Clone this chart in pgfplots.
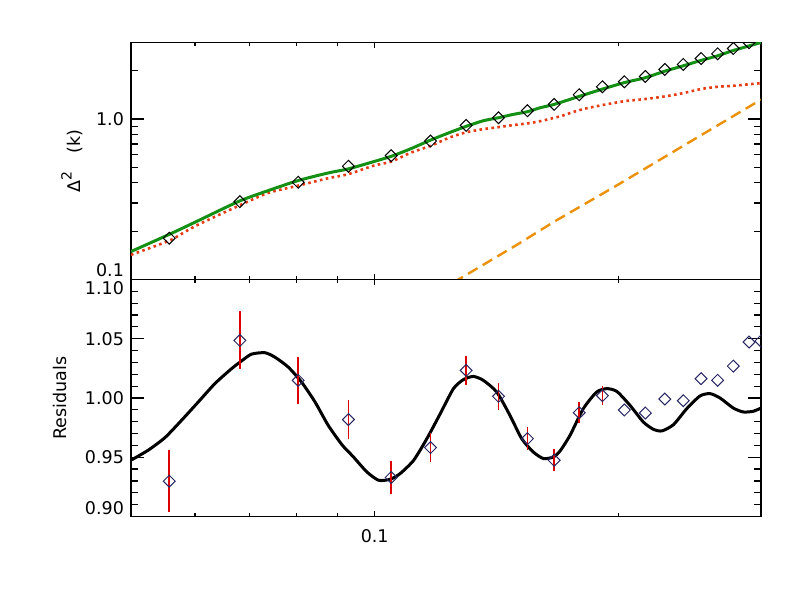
\documentclass[border=0pt]{standalone}
\usepackage{fontspec}
\setmainfont{DejaVu Sans}
\usepackage{pgfplots}
\pgfplotsset{compat=1.18}
\definecolor{cgreen}{RGB}{20,145,20}
\definecolor{cred}{RGB}{230,60,20}
\definecolor{corange}{RGB}{235,145,10}
\definecolor{cerr}{RGB}{220,0,0}
\definecolor{cnavy}{RGB}{40,40,100}
\begin{document}
\begin{tikzpicture}
\path[use as bounding box] (-65.5pt,-41.75pt) rectangle (334.5pt,258.25pt);
\pgfplotsset{
  every axis/.append style={
    scale only axis, width=315pt, height=118.5pt,
    xmode=log, xmin=0.05, xmax=0.3,
    axis line style={line width=0.6pt},
    tick align=inside, xtick pos=both, ytick pos=both,
    xtick={0.1}, minor xtick={0.06,0.07,0.08,0.09,0.2},
    xtick style={/pgfplots/major tick length=2.6pt,/pgfplots/minor tick length=1.6pt, line width=0.6pt, black},
    ytick style={/pgfplots/major tick length=6.5pt,/pgfplots/minor tick length=3.5pt, line width=0.6pt, black},
    ticklabel style={font=\fontsize{8.75}{10}\selectfont},
    label style={font=\fontsize{8.75}{10}\selectfont},
    /pgf/number format/assume math mode=true,
    clip=true, clip marker paths=true,
  }
}
% top panel
\begin{axis}[
  at={(0pt,118.5pt)}, anchor=south west,
  ymode=log, ymin=0.1, ymax=3,
  xticklabels={},
  ytick={0.1,1}, yticklabels={\raisebox{9pt}{0.1},1.0},
  minor ytick={0.2,0.3,0.4,0.5,0.6,0.7,0.8,0.9,2},
  ylabel={Δ\raisebox{0.9ex}{\fontsize{7}{8}\selectfont 2}\hspace{9pt}(k)},
  ylabel style={at={(axis description cs:-0.094,0.5)}, anchor=center},
]
\addplot[corange, line width=1.2pt, dash pattern=on 5.5pt off 3pt] coordinates {
(0.12,0.0846) (0.1269,0.1) (0.15,0.165) (0.1662,0.2276) (0.2,0.391) (0.25,0.765) (0.3,1.321)};
\addplot[cred, line width=1.3pt, dash pattern=on 1.3pt off 1.7pt, smooth, tension=0.4] coordinates {
(0.05,0.1425) (0.0558,0.175) (0.0600,0.2149) (0.0680,0.2888) (0.07386,0.3464) (0.08044,0.3846)
(0.0876,0.4276) (0.0927,0.4528) (0.0997,0.5121) (0.1048,0.5425) (0.1106,0.6143) (0.1173,0.6823)
(0.1239,0.7693) (0.1297,0.8264) (0.1362,0.8653) (0.1422,0.8903) (0.1483,0.917) (0.1544,0.9393)
(0.1601,0.970) (0.1694,1.039) (0.1743,1.090) (0.1810,1.154) (0.1911,1.222) (0.2038,1.294)
(0.2157,1.332) (0.2283,1.384) (0.2405,1.451) (0.2528,1.537) (0.2652,1.589) (0.2773,1.612) (0.3,1.675)};
\addplot[cgreen, line width=1.5pt, smooth, tension=0.4] coordinates {
(0.05,0.1494) (0.0558,0.1915) (0.0600,0.2276) (0.0680,0.3075) (0.07386,0.358) (0.08044,0.4137)
(0.0876,0.4613) (0.0927,0.4885) (0.0997,0.5426) (0.1048,0.5856) (0.1106,0.6506) (0.1173,0.7404)
(0.1239,0.826) (0.1297,0.9003) (0.1362,0.976) (0.1422,1.019) (0.1483,1.069) (0.1544,1.111)
(0.1601,1.176) (0.1666,1.234) (0.1789,1.384) (0.1911,1.537) (0.2038,1.691) (0.2157,1.807)
(0.2283,1.990) (0.2405,2.147) (0.2528,2.318) (0.2652,2.478) (0.2773,2.675) (0.3,3.0)};
\addplot[only marks, mark=square, mark size=2.1pt, mark options={rotate=45, black, line width=0.5pt}] coordinates {
(0.05575,0.181) (0.06815,0.3057) (0.08044,0.4036) (0.0928,0.5075) (0.1048,0.591) (0.1172,0.7294)
(0.1297,0.913) (0.1422,1.019) (0.1544,1.127) (0.1666,1.234) (0.1789,1.417) (0.1911,1.589)
(0.2034,1.707) (0.2159,1.843) (0.2282,2.038) (0.2405,2.189) (0.2530,2.383) (0.2652,2.550)
(0.2773,2.754) (0.2900,2.99)};
\end{axis}
% bottom panel
\begin{axis}[
  at={(0pt,0pt)}, anchor=south west,
  ymin=0.90, ymax=1.10,
  xticklabels={0.1},
  xticklabel style={yshift=-3pt},
  ytick={0.90,0.95,1.00,1.05,1.10},
  yticklabels={\raisebox{8pt}{0.90},0.95,1.00,1.05,\raisebox{-15pt}{1.10}},
  minor y tick num=4,
  ylabel={Residuals},
  ylabel style={at={(axis description cs:-0.112,0.5)}, anchor=center},
]
\addplot[black, line width=1.5pt, smooth, tension=0.4] coordinates {
(0.0500,0.9475) (0.05252,0.956) (0.05508,0.9666) (0.05774,0.9812) (0.06054,0.9966) (0.06347,1.0121)
(0.06655,1.0247) (0.06846,1.0312) (0.07044,1.0370) (0.07318,1.0382) (0.07528,1.0345) (0.0782,1.0261)
(0.0812,1.0135) (0.0844,0.9966) (0.0876,0.9770) (0.0910,0.9610) (0.0927,0.9550) (0.09415,0.9502)
(0.0978,0.9376) (0.1011,0.9306) (0.1045,0.9314) (0.1075,0.9362) (0.1117,0.9474) (0.1160,0.9657)
(0.1205,0.9868) (0.1251,1.0079) (0.1287,1.0155) (0.1324,1.0182) (0.1362,1.0149) (0.1415,1.0050)
(0.1469,0.9854) (0.1519,0.9657) (0.1570,0.9544) (0.1616,0.9489) (0.1662,0.9502) (0.1694,0.9552)
(0.1743,0.9685) (0.1810,0.9910) (0.1880,1.0050) (0.1934,1.0079) (0.1991,1.0056) (0.2067,0.9938)
(0.2147,0.9797) (0.2209,0.9736) (0.2263,0.9722) (0.2339,0.9775) (0.2429,0.9910) (0.2522,1.0017)
(0.2595,1.0037) (0.2670,1.0000) (0.2773,0.9915) (0.2853,0.9882) (0.2935,0.9888) (0.3000,0.9915)};
\addplot[only marks, mark=square, mark size=2.1pt, mark options={rotate=45, cnavy, line width=0.5pt},
  error bars/.cd, y dir=both, y explicit, error mark=none,
  error bar style={cerr, line width=0.75pt}] coordinates {
(0.05575,0.9298) +- (0,0.0263)
(0.06815,1.0486) +- (0,0.0245)
(0.08044,1.0149) +- (0,0.020)
(0.0928,0.9818) +- (0,0.0167)
(0.1048,0.9329) +- (0,0.014)
(0.1172,0.9582) +- (0,0.0126)
(0.1297,1.0233) +- (0,0.0124)
(0.1422,1.0014) +- (0,0.0112)
(0.1544,0.9657) +- (0,0.0100)
(0.1666,0.9475) +- (0,0.0091)
(0.1789,0.9876) +- (0,0.0088)
(0.1911,1.0020) +- (0,0.0083)};
\addplot[only marks, mark=square, mark size=2.1pt, mark options={rotate=45, cnavy, line width=0.5pt}] coordinates {
(0.2034,0.9899) (0.2159,0.9873) (0.2282,0.9991) (0.2405,0.9977) (0.2530,1.0163) (0.2652,1.0149)
(0.2773,1.0269) (0.2900,1.0472) (0.2999,1.048)};
\end{axis}
\end{tikzpicture}
\end{document}
